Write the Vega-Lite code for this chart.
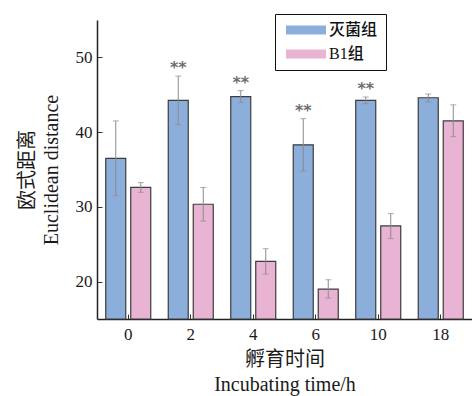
{
  "$schema": "https://vega.github.io/schema/vega-lite/v6.json",
  "width": 375,
  "height": 299,
  "autosize": {"type": "none"},
  "padding": {"left": 97, "top": 20, "right": 0, "bottom": 77},
  "background": "white",
  "config": {
    "view": {"stroke": null},
    "font": "Liberation Serif",
    "axis": {
      "domainColor": "#222222",
      "domainWidth": 1.5,
      "tickColor": "#333333",
      "tickWidth": 1,
      "tickSize": -5,
      "grid": false,
      "labelFont": "Liberation Serif",
      "labelFontSize": 17,
      "labelColor": "#1a1a1a",
      "titleFont": "Liberation Serif, Noto Sans CJK SC",
      "titleFontSize": 20,
      "titleFontWeight": "normal",
      "titleColor": "#1a1a1a"
    }
  },
  "data": {
    "values": [
      {"time": "0", "group": "灭菌组", "mean": 36.5, "lo": 31.5, "hi": 41.5, "sig": ""},
      {"time": "0", "group": "B1组", "mean": 32.6, "lo": 31.95, "hi": 33.25, "sig": ""},
      {"time": "2", "group": "灭菌组", "mean": 44.25, "lo": 41.0, "hi": 47.5, "sig": "**"},
      {"time": "2", "group": "B1组", "mean": 30.35, "lo": 28.1, "hi": 32.6, "sig": ""},
      {"time": "4", "group": "灭菌组", "mean": 44.75, "lo": 43.95, "hi": 45.55, "sig": "**"},
      {"time": "4", "group": "B1组", "mean": 22.7, "lo": 21.0, "hi": 24.4, "sig": ""},
      {"time": "6", "group": "灭菌组", "mean": 38.3, "lo": 34.8, "hi": 41.8, "sig": "**"},
      {"time": "6", "group": "B1组", "mean": 19.0, "lo": 17.8, "hi": 20.25, "sig": ""},
      {"time": "10", "group": "灭菌组", "mean": 44.25, "lo": 43.8, "hi": 44.7, "sig": "**"},
      {"time": "10", "group": "B1组", "mean": 27.45, "lo": 25.75, "hi": 29.1, "sig": ""},
      {"time": "18", "group": "灭菌组", "mean": 44.6, "lo": 44.05, "hi": 45.1, "sig": ""},
      {"time": "18", "group": "B1组", "mean": 41.5, "lo": 39.4, "hi": 43.65, "sig": ""}
    ]
  },
  "encoding": {
    "x": {
      "field": "time",
      "type": "nominal",
      "sort": ["0", "2", "4", "6", "10", "18"],
      "scale": {"paddingInner": 0.28, "paddingOuter": 0.14},
      "axis": {
        "labelAngle": 0,
        "labelPadding": 12,
        "title": ["孵育时间", "Incubating time/h"],
        "titleLineHeight": 25,
        "titlePadding": 7
      }
    },
    "xOffset": {
      "field": "group",
      "type": "nominal",
      "sort": ["灭菌组", "B1组"],
      "scale": {"paddingInner": 0.2, "paddingOuter": 0}
    }
  },
  "layer": [
    {
      "mark": {"type": "bar", "stroke": "#3c3c3c", "strokeWidth": 1.2},
      "encoding": {
        "y": {
          "field": "mean",
          "type": "quantitative",
          "scale": {"domain": [15, 55], "nice": false, "zero": false},
          "axis": {
            "values": [20, 30, 40, 50],
            "labelPadding": 10,
            "title": ["欧式距离", "Euclidean distance"],
            "titleLineHeight": 24,
            "titlePadding": 14
          }
        },
        "y2": {"datum": 15},
        "color": {
          "field": "group",
          "type": "nominal",
          "sort": ["灭菌组", "B1组"],
          "scale": {"domain": ["灭菌组", "B1组"], "range": ["#8caedb", "#e9b4d3"]},
          "legend": {
            "title": null,
            "orient": "none",
            "legendX": 178,
            "legendY": -6,
            "symbolType": "M-1,-0.9H7V0.9H-1Z",
            "symbolSize": 100,
            "symbolStrokeWidth": 0,
            "symbolStrokeColor": "transparent",
            "labelFont": "Liberation Serif, Noto Sans CJK SC",
            "labelFontSize": 16,
            "labelFontWeight": 500,
            "labelColor": "#111111",
            "labelOffset": 30,
            "rowPadding": 8,
            "padding": 8,
            "strokeColor": "#111111",
            "fillColor": "white"
          }
        }
      }
    },
    {
      "mark": {"type": "rule", "color": "#8a8a8a", "strokeWidth": 1},
      "encoding": {
        "y": {"field": "lo", "type": "quantitative"},
        "y2": {"field": "hi"}
      }
    },
    {
      "mark": {"type": "tick", "color": "#8a8a8a", "size": 6, "thickness": 1},
      "encoding": {"y": {"field": "lo", "type": "quantitative"}}
    },
    {
      "mark": {"type": "tick", "color": "#8a8a8a", "size": 6, "thickness": 1},
      "encoding": {"y": {"field": "hi", "type": "quantitative"}}
    },
    {
      "mark": {
        "type": "text",
        "font": "DejaVu Sans",
        "fontSize": 16,
        "fontWeight": "bold",
        "color": "#6e6e6e",
        "baseline": "middle",
        "dy": -8
      },
      "encoding": {
        "y": {"field": "hi", "type": "quantitative"},
        "text": {"field": "sig"}
      }
    }
  ]
}
